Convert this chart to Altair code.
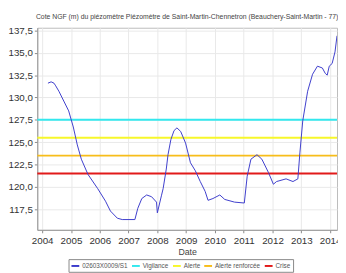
import altair as alt
import pandas as pd

# Piezometer series (decimal year, level in m NGF)
years = [2004.20, 2004.31, 2004.41, 2004.47, 2004.58, 2004.75, 2004.92, 2005.08, 2005.22, 2005.36,
         2005.59, 2005.93, 2006.20, 2006.37, 2006.61, 2006.78, 2007.22, 2007.32, 2007.46, 2007.63,
         2007.80, 2007.97, 2008.00, 2008.14, 2008.20, 2008.31, 2008.37, 2008.47, 2008.58, 2008.68,
         2008.81, 2008.98, 2009.15, 2009.32, 2009.49, 2009.66, 2009.76, 2009.93, 2010.17, 2010.34,
         2010.68, 2011.02, 2011.12, 2011.25, 2011.46, 2011.63, 2011.86, 2012.03, 2012.14, 2012.47,
         2012.71, 2012.88, 2012.95, 2013.05, 2013.22, 2013.39, 2013.56, 2013.73, 2013.83, 2013.90,
         2013.97, 2014.07, 2014.17, 2014.24]
levels = [131.6, 131.75, 131.6, 131.3, 130.7, 129.6, 128.5, 126.7, 124.7, 123.1,
          121.4, 119.8, 118.4, 117.3, 116.5, 116.35, 116.35, 117.6, 118.7, 119.1,
          118.9, 118.3, 117.1, 119.0, 119.8, 122.0, 123.6, 125.3, 126.3, 126.6,
          126.2, 124.9, 122.7, 121.8, 120.6, 119.5, 118.5, 118.7, 119.1, 118.6,
          118.3, 118.2, 121.2, 123.1, 123.6, 123.1, 121.6, 120.3, 120.6, 120.9,
          120.6, 120.9, 123.8, 127.4, 130.7, 132.6, 133.5, 133.3, 132.7, 132.5,
          133.5, 133.8, 135.1, 136.9]
series_name = "02603X0009/S1"

threshold_names = ["Vigilance", "Alerte", "Alerte renforcée", "Crise"]
threshold_values = [127.5, 125.5, 123.5, 121.5]

x_ticks = list(range(2004, 2015))
y_ticks = [117.5, 120.0, 122.5, 125.0, 127.5, 130.0, 132.5, 135.0, 137.5]

legend_names = [series_name] + threshold_names
legend_colors = ["#3c3ccc", "#33e8ee", "#f7f72a", "#f7bd1a", "#e21a1a"]

series_df = pd.DataFrame({"year": years, "level": levels, "name": series_name})
thr_df = pd.DataFrame({"level": threshold_values, "name": threshold_names})

color = alt.Color(
    "name:N",
    scale=alt.Scale(domain=legend_names, range=legend_colors),
    legend=alt.Legend(
        title=None, orient="none", legendX=32, legendY=237, direction="horizontal",
        symbolType="stroke", symbolSize=64, symbolStrokeWidth=2, labelFontSize=6.5,
        labelColor="#555", columnPadding=0, symbolOffset=0, labelOffset=2,
        strokeColor="#888", padding=2, cornerRadius=0, labelLimit=100,
        gridAlign="none",
    ),
)

x = alt.X(
    "year:Q",
    scale=alt.Scale(domain=[2003.83, 2014.24], nice=False, zero=False),
    axis=alt.Axis(values=x_ticks, format="d", title="Date", titleFontSize=9,
                  titleFontWeight="normal", titleColor="#444", titlePadding=2,
                  labelFontSize=10, labelColor="#333", labelPadding=3,
                  labelOverlap=False, labelBound=False, labelFlush=False,
                  tickSize=3, grid=True, gridColor="#e8e8e8", domainColor="#999"),
)
y_scale = alt.Scale(domain=[115.2, 137.8], nice=False, zero=False)
y_axis = alt.Axis(values=y_ticks, title=None, labelFontSize=10, labelColor="#333",
                  labelExpr="replace(format(datum.value, '.1f'), '.', ',')",
                  labelOverlap=False, labelBound=False, labelFlush=False,
                  tickSize=3, grid=True, gridColor="#e8e8e8", domainColor="#999",
                  labelPadding=2)

line = alt.Chart(series_df).mark_line(strokeWidth=1, clip=True).encode(
    x=x,
    y=alt.Y("level:Q", scale=y_scale, axis=y_axis),
    color=color,
)

rules = alt.Chart(thr_df).mark_rule(strokeWidth=2).encode(
    y=alt.Y("level:Q", scale=y_scale, axis=y_axis),
    color=color,
)

chart = alt.layer(rules, line).properties(
    width=307, height=207,
    title=alt.TitleParams(
        "Cote NGF (m) du piézomètre Piézomètre de Saint-Martin-Chennetron (Beauchery-Saint-Martin - 77)",
        fontSize=7, fontWeight="normal", color="#444", offset=6, anchor="middle",
    ),
    autosize=alt.AutoSizeParams(type="none"),
    padding={"left": 30, "top": 17, "right": 1, "bottom": 41},
).configure_view(stroke="#bbb")

chart.save("out.html", embed_options={"renderer": "svg", "actions": False})
